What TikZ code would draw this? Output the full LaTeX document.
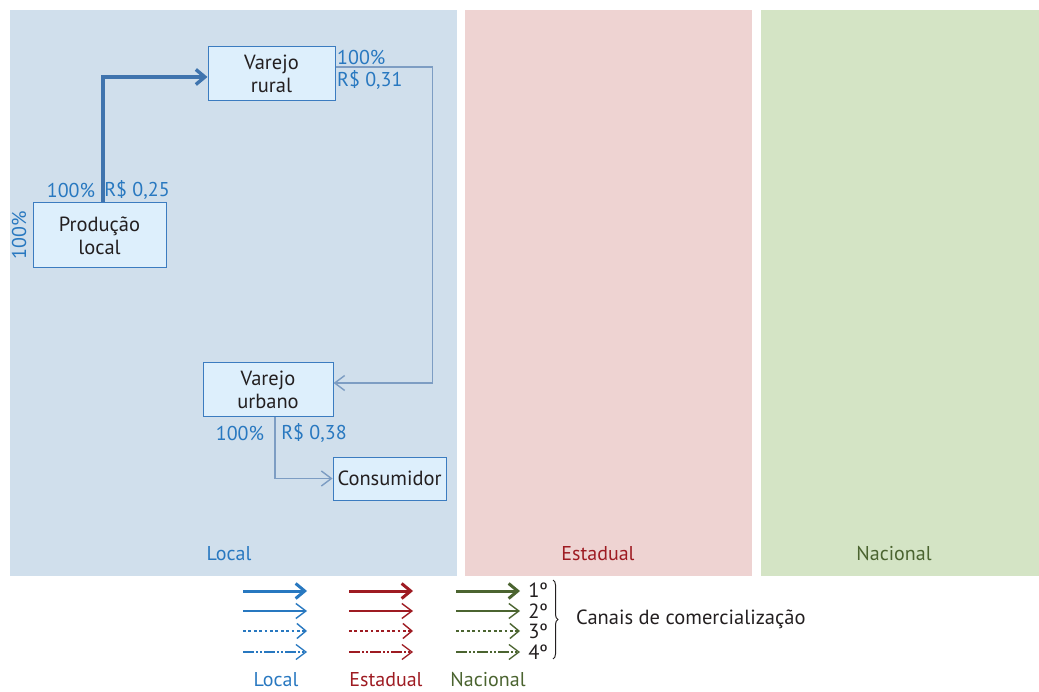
\documentclass[tikz,border=0pt]{standalone}
\usepackage{fontspec}
\setmainfont{PT Sans}
\usetikzlibrary{arrows.meta,decorations.pathreplacing}

\definecolor{loc}{HTML}{2878C0}
\definecolor{est}{HTML}{9E1B22}
\definecolor{nac}{HTML}{4B6430}
\definecolor{locfundo}{HTML}{D0DFEC}
\definecolor{estfundo}{HTML}{EED3D2}
\definecolor{nacfundo}{HTML}{D4E4C5}
\definecolor{caixafundo}{HTML}{DDEFFC}
\definecolor{caixaborda}{HTML}{3B7CC0}
\definecolor{setaforte}{HTML}{3F74AE}
\definecolor{setafraca}{HTML}{7D9DC3}
\definecolor{texto}{HTML}{231F20}

\begin{document}
\begin{tikzpicture}[x=1pt,y=1pt,
	every node/.style={font=\fontsize{20.5}{23}\selectfont,inner sep=0pt},
	caixa/.style={draw=caixaborda,fill=caixafundo,line width=1pt,align=center,text=texto},
	rotulo/.style={text=loc,font=\fontsize{20}{23}\selectfont},
	titulo/.style={font=\fontsize{20}{23}\selectfont},
	canal1/.style={line width=3pt,-{Straight Barb[length=9pt,width=15pt]}},
	canal2/.style={line width=1.4pt,-{Straight Barb[length=10pt,width=15pt]}},
	canal3/.style={line width=2.8pt,dash pattern=on 2.8pt off 2.6pt,-{Straight Barb[length=9pt,width=15pt,line width=1.4pt]}},
	canal4/.style={line width=1.3pt,dash pattern=on 11pt off 2pt on 2pt off 2pt on 2pt off 2pt,-{Straight Barb[length=10pt,width=15pt]}}]
	\useasboundingbox (0,0) rectangle (1039,-692);

	% faixas
	\fill[locfundo] (10,-10) rectangle (457,-576);
	\fill[estfundo] (465,-10) rectangle (752,-576);
	\fill[nacfundo] (761,-10) rectangle (1039,-576);
	\node[titulo,text=loc] (tlocal) at (229,-554) {Local};
	\node[titulo,text=est] (testadual) at (598,-554) {Estadual};
	\node[titulo,text=nac] (tnacional) at (894,-554) {Nacional};

	% caixas
	\node[caixa,minimum width=127pt,minimum height=54pt] (rural) at (271.5,-74) {Varejo\\rural};
	\node[caixa,minimum width=133pt,minimum height=65pt] (producao) at (99.5,-235.5) {Produção\\local};
	\node[caixa,minimum width=130pt,minimum height=54pt] (urbano) at (268,-390) {Varejo\\urbano};
	\node[caixa,minimum width=113pt,minimum height=43pt] (consumidor) at (389.5,-478.5) {Consumidor};

	% fluxos
	\draw[canal1,setaforte,line width=3.4pt] ([xshift=3.5pt]producao.north) |- ([yshift=-3pt]rural.west);
	\draw[canal2,setafraca] ([yshift=7pt]rural.east) -- ++(97,0) |- ([yshift=7pt]urbano.east);
	\draw[canal2,setafraca] ([xshift=7pt]urbano.south) |- (consumidor.west);

	% percentuais e precos
	\node[rotulo] (p1) at (71,-190) {100\%};
	\node[rotulo] (v1) at (137,-190) {R\$ 0,25};
	\node[rotulo,rotate=90] (p0) at (19,-235) {100\%};
	\node[rotulo,anchor=west] (p2) at (337,-57) {100\%};
	\node[rotulo,anchor=west] (v2) at (337,-80) {R\$ 0,31};
	\node[rotulo] (p3) at (240,-433) {100\%};
	\node[rotulo] (v3) at (314,-433) {R\$ 0,38};

	% legenda
	\foreach \cor/\x in {loc/243,est/349,nac/456}
		\foreach \estilo/\y in {canal1/591,canal2/611,canal3/631,canal4/652}
			\draw[\estilo,\cor] (\x,-\y) -- ++(64,0);
	\node[text=texto] (n1) at (538,-590) {1º};
	\node[text=texto] (n2) at (538,-611) {2º};
	\node[text=texto] (n3) at (538,-631) {3º};
	\node[text=texto] (n4) at (538,-652) {4º};
	\draw[texto,line width=1pt,decorate,decoration={brace,amplitude=5pt}] (553,-580) -- (553,-659);
	\node[text=texto,anchor=west] (canais) at (576,-619) {Canais de comercialização};
	\node[titulo,text=loc] (llocal) at (276,-680) {Local};
	\node[titulo,text=est] (lestadual) at (386,-680) {Estadual};
	\node[titulo,text=nac] (lnacional) at (488,-680) {Nacional};
\end{tikzpicture}
\end{document}
